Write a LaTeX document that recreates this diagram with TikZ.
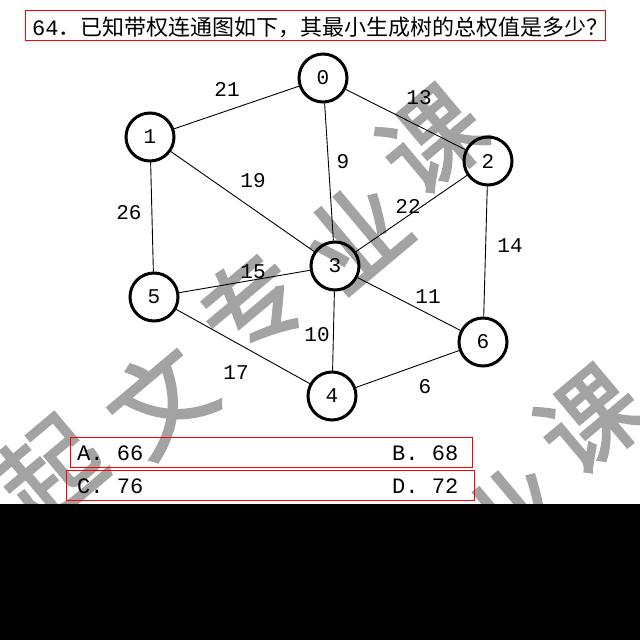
\documentclass[tikz,border=0pt]{standalone}
\usepackage{fontspec}
\setmainfont{Liberation Mono}
\newfontfamily\cjk{Noto Sans CJK SC}
\newfontfamily\wmfont{Noto Sans CJK SC}[FakeBold=2.5]
\begin{document}
\begin{tikzpicture}[x=1pt,y=-1pt,
  vert/.style={circle,draw=black,line width=3pt,minimum size=48pt,inner sep=0pt,font=\fontsize{21}{21}\selectfont},
  edge/.style={line width=0.9pt,black},
  wlabel/.style={inner sep=0pt,font=\fontsize{21}{21}\selectfont},
  redbox/.style={draw=red,line width=1.3pt,inner sep=0pt},
  opt/.style={anchor=base west,inner sep=0pt,font=\fontsize{22}{22}\selectfont},
  wm/.style={text=black!36,inner sep=0pt,font=\wmfont\fontsize{100}{100}\selectfont,rotate=40}]
\useasboundingbox (0,0) rectangle (640,640);
% watermark
\node[wm] (w1) at (50,470) {起};
\node[wm] (w2) at (160,400) {文};
\node[wm] (w3) at (252,305) {专};
\node[wm] (w4) at (355,235) {业};
\node[wm] (w5) at (432,140) {课};
\node[wm] (w6) at (513,515) {业};
\node[wm] (w7) at (590,420) {课};
% title
\node[redbox,anchor=north west,minimum width=580pt,minimum height=30pt] (titlebox) at (25,10) {};
\node[anchor=base west,inner sep=0pt,font=\fontsize{22}{22}\selectfont] (title) at (32,35) {64{\cjk ．已知带权连通图如下，其最小生成树的总权值是多少？}};
% vertices
\node[vert] (n0) at (323,78) {0};
\node[vert] (n1) at (150,137) {1};
\node[vert] (n2) at (488,161) {2};
\node[vert] (n3) at (335,266) {3};
\node[vert] (n5) at (154,297) {5};
\node[vert] (n6) at (483,342) {6};
\node[vert] (n4) at (332,396) {4};
% edges
\draw[edge] (n0) -- (n1);
\draw[edge] (n0) -- (n2);
\draw[edge] (n0) -- (n3);
\draw[edge] (n1) -- (n3);
\draw[edge] (n1) -- (n5);
\draw[edge] (n2) -- (n3);
\draw[edge] (n2) -- (n6);
\draw[edge] (n3) -- (n5);
\draw[edge] (n3) -- (n6);
\draw[edge] (n3) -- (n4);
\draw[edge] (n5) -- (n4);
\draw[edge] (n4) -- (n6);
% weights
\node[wlabel] (l01) at (227,89) {21};
\node[wlabel] (l02) at (419,98) {13};
\node[wlabel] (l03) at (343,162) {9};
\node[wlabel] (l13) at (253,181) {19};
\node[wlabel] (l15) at (129,213) {26};
\node[wlabel] (l23) at (408,206) {22};
\node[wlabel] (l26) at (510,246) {14};
\node[wlabel] (l35) at (253,272) {15};
\node[wlabel] (l36) at (428,297) {11};
\node[wlabel] (l34) at (317,335) {10};
\node[wlabel] (l54) at (236,373) {17};
\node[wlabel] (l46) at (425,387) {6};
% options
\node[redbox,anchor=north west,minimum width=402pt,minimum height=30pt] (boxab) at (70,437) {};
\node[redbox,anchor=north west,minimum width=408pt,minimum height=30pt] (boxcd) at (66,470) {};
\node[opt] (oa) at (77,460) {A. 66};
\node[opt] (ob) at (392,460) {B. 68};
\node[opt] (oc) at (77,493) {C. 76};
\node[opt] (od) at (392,493) {D. 72};
% black band
\fill[black] (0,504) rectangle (640,640);
\end{tikzpicture}
\end{document}
